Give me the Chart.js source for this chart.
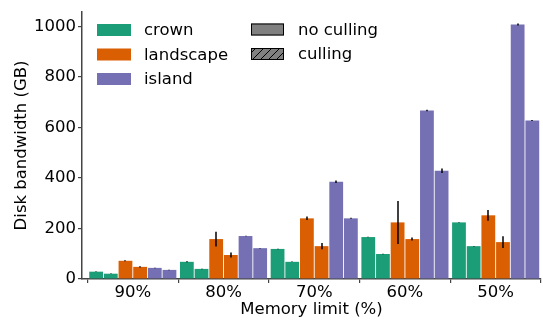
<!DOCTYPE html>
<html><head><meta charset="utf-8">
<script src="https://cdn.jsdelivr.net/npm/chart.js@4.4.1/dist/chart.umd.min.js"></script>
<style>html,body{margin:0;padding:0;background:#fff}canvas{display:block}</style>
</head><body>
<canvas id="c" width="543" height="320"></canvas>
<script>
// ---- data ----
const categories = ['90%', '80%', '70%', '60%', '50%'];
const yTickValues = [0, 200, 400, 600, 800, 1000];

const crownNoCull     = [29, 68, 119, 166, 224];
const crownCull       = [21, 40, 68, 99, 130];
const landscapeNoCull = [72, 158, 240, 224, 252];
const landscapeCull   = [48, 95, 130, 158, 146];
const islandNoCull    = [44, 170, 385, 667, 1007];
const islandCull      = [36, 122, 240, 428, 627];

const crownNoCullErr     = [1, 2, 1, 1, 1];
const crownCullErr       = [1, 1, 1, 1, 1];
const landscapeNoCullErr = [2, 29, 7, 85, 21];
const landscapeCullErr   = [2, 10, 12, 6, 23];
const islandNoCullErr    = [1, 1, 5, 3, 4];
const islandCullErr      = [1, 1, 2, 9, 2];

const seriesNames = ['crown', 'landscape', 'island'];
const cullNames = ['no culling', 'culling'];

// ---- styling ----
const FONT = 'DejaVu Sans';
const FS = 16.5;
Chart.defaults.font.family = FONT;
Chart.defaults.color = '#000';
const COLORS = {crown: '#1b9e77', landscape: '#d95f02', island: '#7570b3'};
const AXIS = '#444';

function pts(arr) { return arr.map((v, i) => ({x: i, y: v})); }

const datasets = [
  {label: 'crown no culling', data: pts(crownNoCull), err: crownNoCullErr, backgroundColor: COLORS.crown},
  {label: 'crown culling', data: pts(crownCull), err: crownCullErr, backgroundColor: COLORS.crown},
  {label: 'landscape no culling', data: pts(landscapeNoCull), err: landscapeNoCullErr, backgroundColor: COLORS.landscape},
  {label: 'landscape culling', data: pts(landscapeCull), err: landscapeCullErr, backgroundColor: COLORS.landscape},
  {label: 'island no culling', data: pts(islandNoCull), err: islandNoCullErr, backgroundColor: COLORS.island},
  {label: 'island culling', data: pts(islandCull), err: islandCullErr, backgroundColor: COLORS.island},
].map(d => Object.assign(d, {categoryPercentage: 0.97, barPercentage: 0.94, borderWidth: 0}));

const errorBars = {
  id: 'errorBars',
  afterDatasetsDraw(chart) {
    const ctx = chart.ctx, ys = chart.scales.y;
    ctx.save();
    ctx.strokeStyle = '#000';
    ctx.lineWidth = 1.5;
    chart.data.datasets.forEach((ds, i) => {
      const meta = chart.getDatasetMeta(i);
      meta.data.forEach((bar, j) => {
        const v = ds.data[j].y, e = ds.err[j];
        const x = Math.round(bar.x);
        ctx.beginPath();
        ctx.moveTo(x, ys.getPixelForValue(v + e));
        ctx.lineTo(x, ys.getPixelForValue(v - e));
        ctx.stroke();
      });
    });
    ctx.restore();
  }
};

function hatchPattern(ctx) {
  const c = document.createElement('canvas');
  c.width = 8; c.height = 8;
  const g = c.getContext('2d');
  g.fillStyle = '#808080';
  g.fillRect(0, 0, 8, 8);
  g.strokeStyle = '#000';
  g.lineWidth = 1;
  g.beginPath();
  for (let k = -8; k <= 16; k += 8) {
    g.moveTo(k, 8); g.lineTo(k + 8, 0);
  }
  g.stroke();
  return ctx.createPattern(c, 'repeat');
}

const legendPlugin = {
  id: 'customLegend',
  afterDraw(chart) {
    const ctx = chart.ctx;
    ctx.save();
    ctx.font = FS + 'px "' + FONT + '"';
    ctx.textBaseline = 'middle';
    ctx.fillStyle = '#000';
    const rowY = [30, 54.5, 79];
    seriesNames.forEach((n, i) => {
      ctx.fillStyle = COLORS[n];
      ctx.fillRect(97, rowY[i] - 6, 34, 12);
      ctx.fillStyle = '#000';
      ctx.fillText(n, 144, rowY[i] + 1);
    });
    cullNames.forEach((n, i) => {
      const y = rowY[i] - 0.5;
      ctx.fillStyle = i === 0 ? '#808080' : hatchPattern(ctx);
      ctx.fillRect(251, y - 6, 33, 12);
      ctx.strokeStyle = '#000';
      ctx.lineWidth = 1;
      ctx.strokeRect(251.5, y - 5.5, 32, 11);
      ctx.fillStyle = '#000';
      ctx.fillText(n, 298, y + 1);
    });
    ctx.restore();
  }
};

new Chart(document.getElementById('c'), {
  type: 'bar',
  data: {datasets},
  options: {
    responsive: false,
    animation: false,
    layout: {padding: {top: 8, right: 2, left: 0, bottom: 0}},
    plugins: {legend: {display: false}, tooltip: {enabled: false}},
    scales: {
      x: {
        type: 'linear', min: -0.56, max: 4.5, offset: false,
        afterBuildTicks: s => { s.ticks = categories.map((c, i) => ({value: i})); },
        afterFit: s => { s.height = 41; },
        ticks: {callback: v => categories[v], font: {size: FS}, color: '#000', padding: 0, autoSkip: false, maxRotation: 0},
        grid: {drawOnChartArea: false, drawTicks: true, tickLength: 4, color: AXIS, lineWidth: 1.2},
        border: {display: true, color: AXIS, width: 1.5},
        title: {display: true, text: 'Memory limit (%)', font: {size: FS}, color: '#000', padding: {top: 0, bottom: 0}}
      },
      y: {
        min: 0, max: 1057,
        afterBuildTicks: s => { s.ticks = yTickValues.map(v => ({value: v})); },
        afterFit: s => { s.width = 82; },
        ticks: {callback: v => String(v), font: {size: FS}, color: '#000', padding: 2},
        grid: {drawOnChartArea: false, drawTicks: true, tickLength: 4, color: AXIS, lineWidth: 1.2},
        border: {display: true, color: AXIS, width: 1.5},
        title: {display: true, text: 'Disk bandwidth (GB)', font: {size: FS}, color: '#000', padding: {top: 12, bottom: 0}}
      }
    }
  },
  plugins: [errorBars, legendPlugin]
});
</script>
</body></html>
